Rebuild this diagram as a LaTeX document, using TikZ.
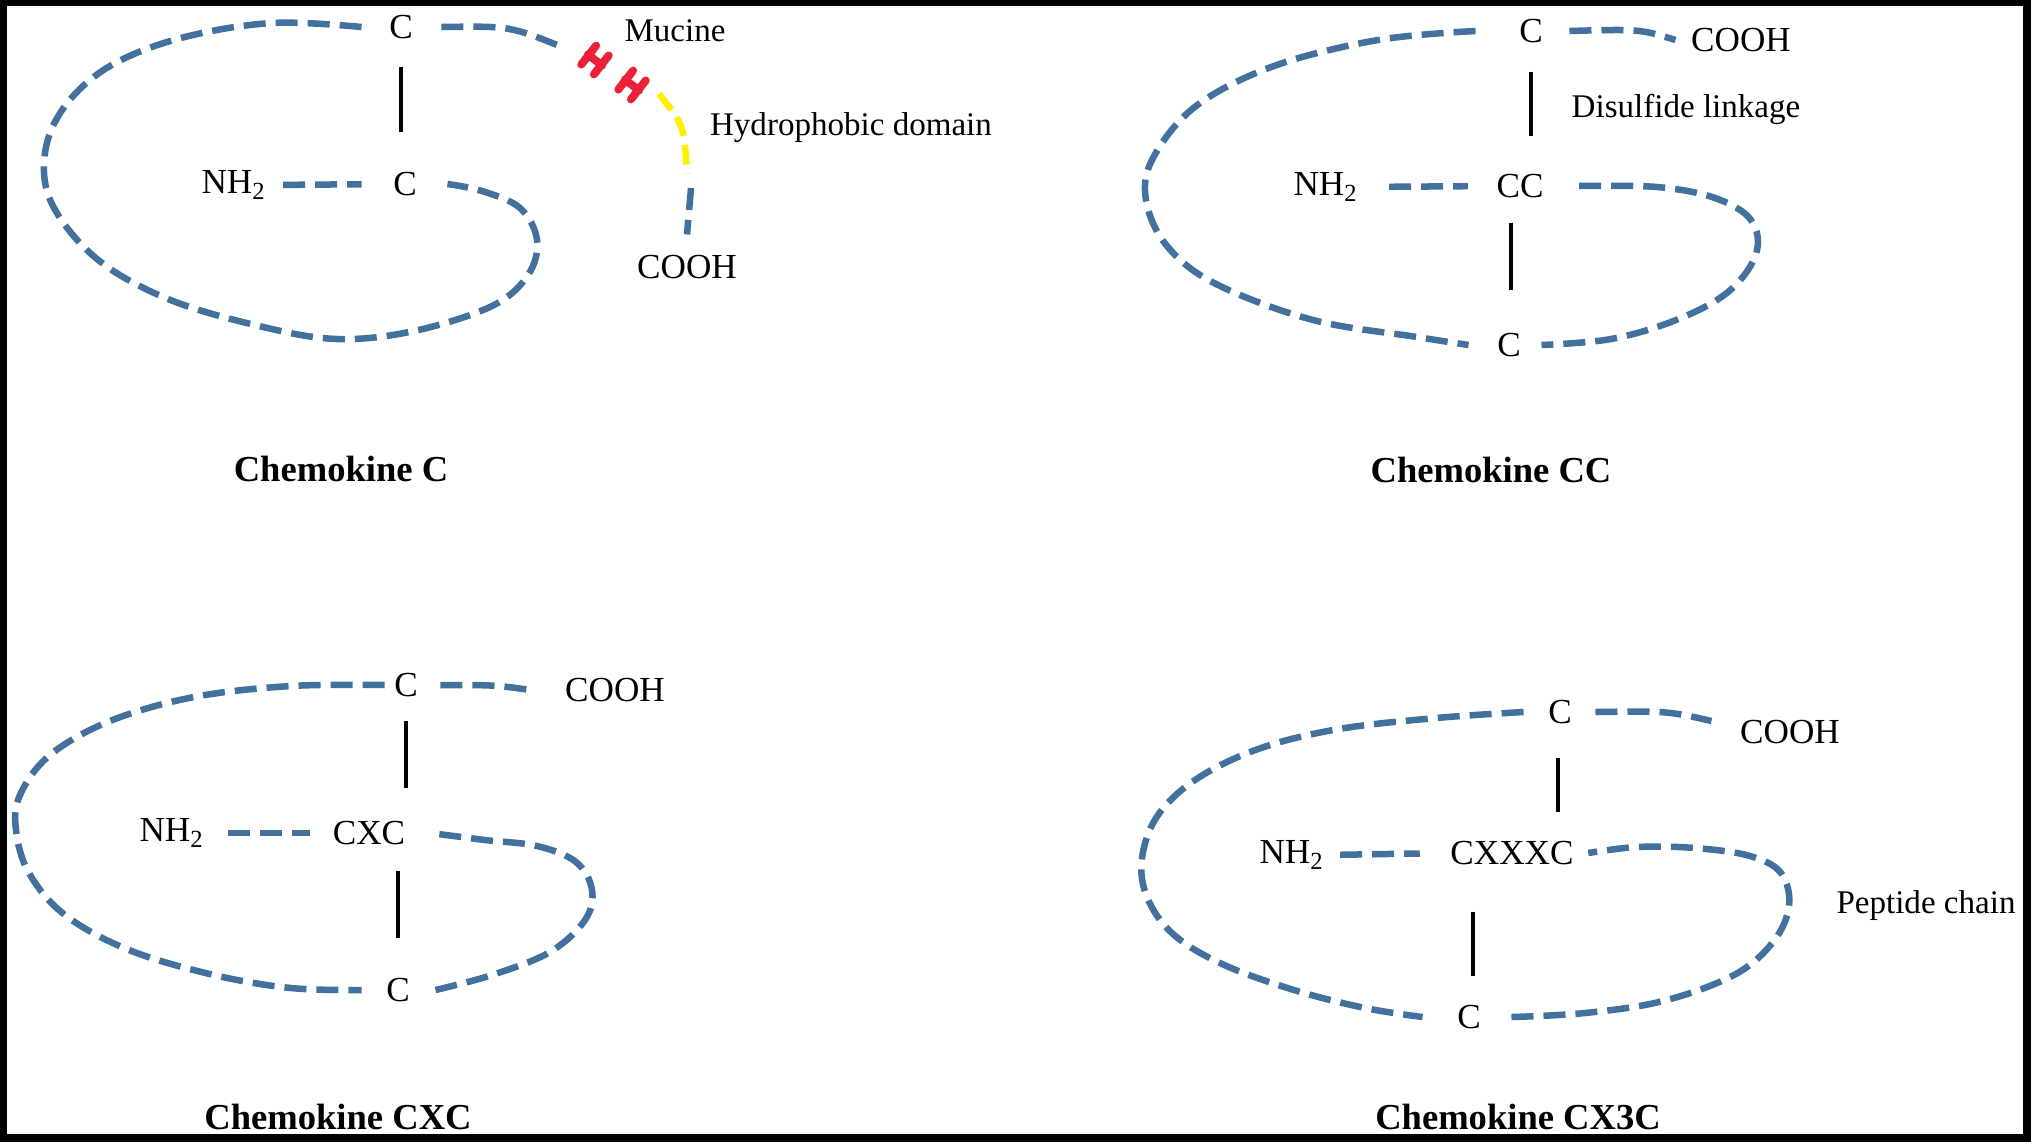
\documentclass[tikz,border=0pt]{standalone}
\usepackage{fontspec}
\setmainfont{Liberation Serif}
\definecolor{pepblue}{RGB}{65,113,156}
\definecolor{mucred}{RGB}{236,32,56}
\definecolor{hydyellow}{RGB}{255,240,0}
\begin{document}
\begin{tikzpicture}[x=0.01cm,y=-0.01cm,
  pep/.style={draw=pepblue, line width=0.065cm, dash pattern=on 0.22cm off 0.1cm},
  hyd/.style={draw=hydyellow, line width=0.065cm, dash pattern=on 0.2cm off 0.09cm},
  bond/.style={draw=black, line width=0.035cm},
  chem/.style={inner sep=0pt, font=\fontsize{10}{12}\selectfont},
  note/.style={inner sep=0pt, font=\fontsize{9.4}{11}\selectfont},
  ttl/.style={inner sep=0pt, font=\fontsize{10.4}{12}\selectfont\bfseries},
  muc/.style={draw=mucred, line width=0.08cm, line cap=round},
  mucH/.pic={\draw[muc] (-8,-12) -- (-8,12) (8,-12) -- (8,12) (-9,0) -- (9,0);}
]
% frame
\fill[black] (0,0) rectangle (2031,1142);
\fill[white] (7,6) rectangle (2023,1134);

% ---------------- Chemokine C ----------------
\node[chem] (p1top) at (401,27) {C};
\node[chem] (p1mid) at (405,184) {C};
\node[chem] (p1nh) at (234,185) {NH\textsubscript{2}};
\node[chem] (p1cooh) at (687,267) {COOH};
\node[note] (p1muc) at (675,31) {Mucine};
\node[note] (p1hyd) at (851,128) {Hydrophobic domain};
\node[ttl] (p1title) at (341,469) {Chemokine C};

\draw[pep] plot[smooth, tension=0.6] coordinates {([xshift=-0.27cm]p1top.west) (272,23) (181,38) (110,66) (65,106) (45,153) (52,204) (97,259) (168,299) (259,326) (337,339) (414,331) (492,306) (528,275) (537,240) (520,208) (482,191) ([xshift=0.3cm]p1mid.east)};
\draw[pep, shorten <=0.16cm, shorten >=0.31cm] (p1nh.east) -- (p1mid.west);
\draw[pep] ([xshift=0.28cm]p1top.east) .. controls (510,26) .. (562,47);
\pic[rotate=-38] at (595,60) {mucH};
\pic[rotate=-38] at (632,85) {mucH};
\draw[hyd] (659,94) .. controls (684,125) .. (687,174);
\draw[pep] (691,188) -- ([yshift=0.2cm]p1cooh.north);
\draw[bond, shorten <=0.27cm, shorten >=0.39cm] (p1top.south) -- (p1top.south |- p1mid.north);

% ---------------- Chemokine CC ----------------
\node[chem] (p2top) at (1531,31) {C};
\node[chem] (p2cooh) at (1741,40) {COOH};
\node[note] (p2dis) at (1686,109) {Disulfide linkage};
\node[chem] (p2nh) at (1326,187) {NH\textsubscript{2}};
\node[chem] (p2cc) at (1520,186) {CC};
\node[chem] (p2bot) at (1509,345) {C};
\node[ttl] (p2title) at (1491,470) {Chemokine CC};

\draw[pep] plot[smooth, tension=0.6] coordinates {([xshift=-0.43cm]p2top.west) (1378,40) (1274,66) (1196,106) (1153,158) (1146,200) (1167,246) (1216,284) (1313,320) (1417,337) ([xshift=-0.28cm]p2bot.west)};
\draw[pep] plot[smooth, tension=0.6] coordinates {([xshift=0.35cm]p2cc.east) (1657,187) (1715,198) (1751,220) (1756,254) (1728,292) (1676,320) (1611,339) ([xshift=0.2cm]p2bot.east)};
\draw[pep] ([xshift=0.26cm]p2top.east) .. controls (1640,29) .. ([xshift=-0.15cm]p2cooh.west);
\draw[pep, shorten <=0.3cm, shorten >=0.28cm] (p2nh.east) -- (p2cc.west);
\draw[bond, shorten <=0.28cm, shorten >=0.37cm] (p2top.south) -- (p2top.south |- p2cc.north);
\draw[bond, shorten <=0.24cm, shorten >=0.42cm] ([xshift=0.02cm]p2bot.north |- p2cc.south) -- ([xshift=0.02cm]p2bot.north);

% ---------------- Chemokine CXC ----------------
\node[chem] (p3top) at (406,685) {C};
\node[chem] (p3cooh) at (615,690) {COOH};
\node[chem] (p3nh) at (172,833) {NH\textsubscript{2}};
\node[chem] (p3cxc) at (369,833) {CXC};
\node[chem] (p3bot) at (398,990) {C};
\node[ttl] (p3title) at (338,1117) {Chemokine CXC};

\draw[pep] plot[smooth, tension=0.6] coordinates {([xshift=-0.09cm]p3top.west) (291,686) (194,697) (110,721) (50,755) (20,795) (16,830) (29,873) (65,915) (129,950) (214,975) (291,988) ([xshift=-0.24cm]p3bot.west)};
\draw[pep] plot[smooth, tension=0.6] coordinates {([xshift=0.25cm]p3bot.east) (492,975) (550,952) (585,920) (592,890) (576,862) (537,846) (485,840) ([xshift=0.25cm]p3cxc.east)};
\draw[pep] ([xshift=0.22cm]p3top.east) .. controls (495,685) .. ([xshift=-0.34cm]p3cooh.west);
\draw[pep, shorten <=0.23cm, shorten >=0.22cm] (p3nh.east) -- (p3cxc.west);
\draw[bond, shorten <=0.23cm, shorten >=0.32cm] (p3top.south) -- (p3top.south |- p3cxc.north);
\draw[bond, shorten <=0.25cm, shorten >=0.39cm] (p3bot.north |- p3cxc.south) -- (p3bot.north);

% ---------------- Chemokine CX3C ----------------
\node[chem] (p4top) at (1560,712) {C};
\node[chem] (p4cooh) at (1790,732) {COOH};
\node[chem] (p4nh) at (1292,855) {NH\textsubscript{2}};
\node[chem] (p4cx) at (1512,853) {CXXXC};
\node[chem] (p4bot) at (1469,1017) {C};
\node[note] (p4pep) at (1926,906) {Peptide chain};
\node[ttl] (p4title) at (1518,1117) {Chemokine CX3C};

\draw[pep] plot[smooth, tension=0.6] coordinates {([xshift=-0.24cm]p4top.west) (1436,718) (1339,729) (1261,748) (1198,778) (1158,815) (1142,858) (1147,897) (1173,934) (1222,964) (1294,990) (1365,1008) ([xshift=-0.34cm]p4bot.west)};
\draw[pep] plot[smooth, tension=0.6] coordinates {([xshift=0.3cm]p4bot.east) (1585,1013) (1663,1001) (1734,975) (1773,942) (1789,906) (1781,873) (1750,856) (1695,848) (1637,847) ([xshift=0.14cm]p4cx.east)};
\draw[pep] ([xshift=0.23cm]p4top.east) .. controls (1668,711) .. ([xshift=-0.28cm, yshift=0.11cm]p4cooh.west);
\draw[pep, shorten <=0.15cm, shorten >=0.3cm] (p4nh.east) -- (p4cx.west);
\draw[bond, shorten <=0.33cm, shorten >=0.28cm] ([xshift=-0.02cm]p4top.south) -- ([xshift=-0.02cm]p4top.south |- p4cx.north);
\draw[bond, shorten <=0.46cm, shorten >=0.28cm] ([xshift=0.04cm]p4bot.north |- p4cx.south) -- ([xshift=0.04cm]p4bot.north);
\end{tikzpicture}
\end{document}
